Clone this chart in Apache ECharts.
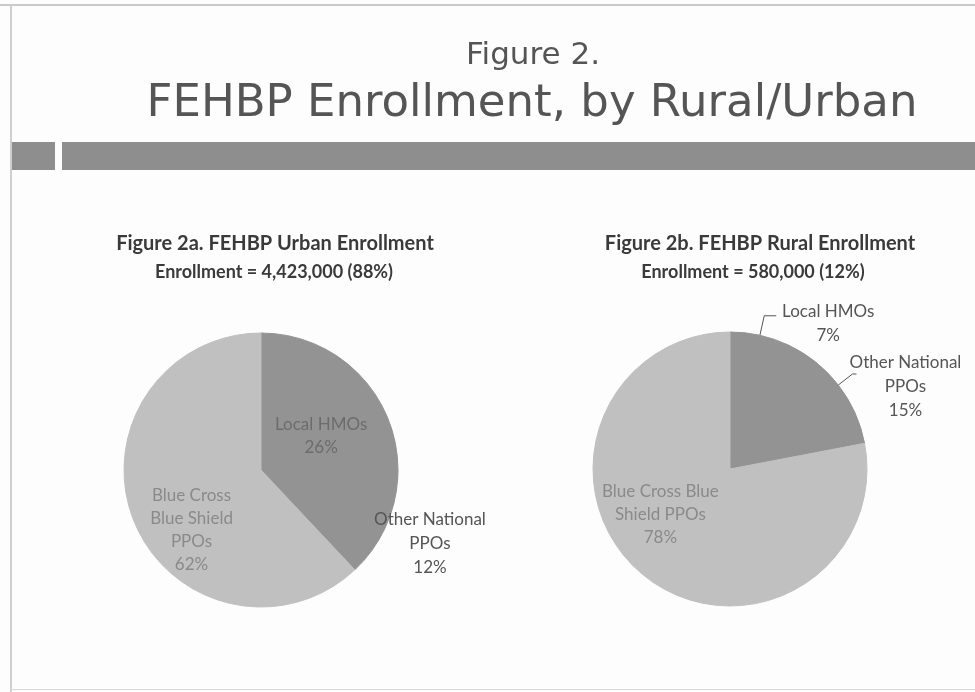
<!DOCTYPE html>
<html>
<head>
<meta charset="utf-8">
<script src="https://cdn.jsdelivr.net/npm/echarts@6/dist/echarts.min.js"></script>
<style>
html, body { margin: 0; padding: 0; background: #fdfdfd; }
#chart { width: 975px; height: 692px; }
</style>
</head>
<body>
<div id="chart"></div>
<script>
// plan types, clockwise from 12 o'clock
var planNames = ['Local HMOs', 'Other National PPOs', 'Blue Cross Blue Shield PPOs'];
var urbanShares = [26, 12, 62];
var ruralShares = [7, 15, 78];
// label wording as broken in the original slides
var urbanLabelText = ['Local HMOs', 'Other National\nPPOs', 'Blue Cross\nBlue Shield\nPPOs'];
var ruralLabelText = ['Local HMOs', 'Other National\nPPOs', 'Blue Cross Blue\nShield PPOs'];

var chart = echarts.init(document.getElementById('chart'), null, { renderer: 'canvas' });

var sliceColors = ['#939393', '#939393', '#c0c0c0'];
var labelFont = 'Lato, "Open Sans", sans-serif';

// nudges applied on top of the library's own label placement
var labelNudge = [
    [[8, 15], [-18, 15], [-3, 34]],
    [[0, 8], [-14, 13], [-24, -10]]
];

function centered(text, width, color) {
    return {
        formatter: text.split('\n').map(function (s) { return '{c|' + s + '}'; }).join('\n'),
        rich: { c: { width: width, align: 'center', fontFamily: labelFont, fontSize: 17, lineHeight: 24, color: color } }
    };
}

function buildData(shares, texts, kinds) {
    return shares.map(function (v, i) {
        var txt = texts[i] + '\n' + v + '%';
        // stroke in the fill colour so no seam shows between slices
        var item = { name: planNames[i], value: v, itemStyle: { color: sliceColors[i], borderColor: sliceColors[i], borderWidth: 1 } };
        var k = kinds[i];
        if (k.inside) {
            item.label = { position: 'inside', formatter: txt, color: k.color, fontFamily: labelFont, fontSize: 17, lineHeight: 23 };
            item.labelLine = { show: false };
        } else {
            var c = centered(txt, k.width, '#555');
            item.label = { position: 'outside', formatter: c.formatter, rich: c.rich, distanceToLabelLine: 4 };
            item.labelLine = { show: k.line, length: k.len, length2: k.len2, lineStyle: { color: '#555', width: 1 } };
        }
        return item;
    });
}

var urbanKinds = [
    { inside: true, color: '#6c6c6c' },
    { inside: false, line: false, len: 0, len2: 0, width: 118 },
    { inside: true, color: '#8a8a8a' }
];
var ruralKinds = [
    { inside: false, line: true, len: 20, len2: 12, width: 96 },
    { inside: false, line: true, len: 18, len2: 4, width: 118 },
    { inside: true, color: '#8a8a8a' }
];

function pieSeries(name, center, data) {
    return {
        name: name,
        type: 'pie',
        center: center,
        radius: 137,
        startAngle: 90,
        clockwise: true,
        silent: true,
        animation: false,
        avoidLabelOverlap: false,
        data: data,
        labelLayout: function (p) {
            var n = labelNudge[p.seriesIndex][p.dataIndex];
            return { dx: n[0], dy: n[1] };
        }
    };
}

var option = {
    backgroundColor: '#fdfdfd',
    graphic: [
        // slide frame
        { type: 'rect', shape: { x: 0, y: 4, width: 975, height: 2 }, style: { fill: '#c9c9c9' } },
        { type: 'rect', shape: { x: 10, y: 4, width: 2, height: 688 }, style: { fill: '#cfcfcf' } },
        { type: 'rect', shape: { x: 10, y: 689, width: 965, height: 1 }, style: { fill: '#d8d8d8' } },
        // header band
        { type: 'rect', shape: { x: 12, y: 142, width: 43, height: 28 }, style: { fill: '#8e8e8e' } },
        { type: 'rect', shape: { x: 62, y: 142, width: 913, height: 28 }, style: { fill: '#8e8e8e' } },
        // titles
        { type: 'text', x: 533, y: 56, style: { text: 'Figure 2.', font: '31px "DejaVu Sans", sans-serif', fill: '#555555', align: 'center', verticalAlign: 'middle' } },
        { type: 'text', x: 532, y: 104, style: { text: 'FEHBP Enrollment, by Rural/Urban', font: '45px "DejaVu Sans", sans-serif', fill: '#555555', align: 'center', verticalAlign: 'middle' } },
        { type: 'text', x: 275, y: 244, style: { text: 'Figure 2a. FEHBP Urban Enrollment', font: 'bold 20px Lato, sans-serif', fill: '#3a3a3a', align: 'center', verticalAlign: 'middle' } },
        { type: 'text', x: 274, y: 272, style: { text: 'Enrollment = 4,423,000 (88%)', font: 'bold 18px Lato, sans-serif', fill: '#3a3a3a', align: 'center', verticalAlign: 'middle' } },
        { type: 'text', x: 760, y: 244, style: { text: 'Figure 2b. FEHBP Rural Enrollment', font: 'bold 20px Lato, sans-serif', fill: '#3a3a3a', align: 'center', verticalAlign: 'middle' } },
        { type: 'text', x: 753, y: 272, style: { text: 'Enrollment = 580,000 (12%)', font: 'bold 18px Lato, sans-serif', fill: '#3a3a3a', align: 'center', verticalAlign: 'middle' } }
    ],
    series: [
        pieSeries('Urban', [261, 470], buildData(urbanShares, urbanLabelText, urbanKinds)),
        pieSeries('Rural', [730, 469], buildData(ruralShares, ruralLabelText, ruralKinds))
    ]
};

chart.setOption(option);
</script>
</body>
</html>
